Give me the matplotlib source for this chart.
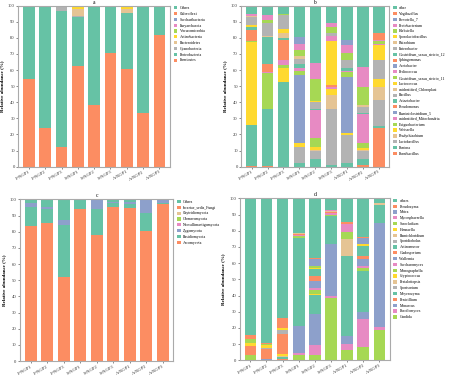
import numpy as np
import matplotlib
matplotlib.use("Agg")
import matplotlib.pyplot as plt
from matplotlib.patches import Patch

plt.rcParams['font.family'] = ['Liberation Serif', 'DejaVu Serif']

# === DATA ===
samples = ['F-NGP1', 'F-NGP2', 'F-NGP3', 'S-NGP1', 'S-NGP2', 'S-NGP3',
           'A-NGP1', 'A-NGP2', 'A-NGP3']

# panel a, bottom-up
a_taxa = ['Firmicutes', 'Proteobacteria', 'Cyanobacteria', 'Bacteroidetes',
          'Actinobacteria', 'Verrucomicrobia', 'Euryarchaeota',
          'Saccharibacteria', 'Chloroflexi', 'Others']
a_values = [
    [54.5, 24.0, 12.0, 62.5, 38.0, 70.5, 60.5, 33.5, 81.5],
    [44.5, 75.0, 84.5, 30.5, 61.7, 28.5, 35.0, 66.2, 17.5],
    [0, 0, 2.5, 0.5, 0, 0, 0, 0, 0],
    [0.3, 0.3, 0.5, 4.5, 0, 0.7, 2.5, 0, 0.7],
    [0.7, 0.7, 0.3, 2.0, 0.2, 0.2, 2.0, 0.2, 0.2],
    [0, 0, 0, 0, 0, 0, 0, 0, 0],
    [0, 0, 0, 0, 0, 0, 0, 0, 0],
    [0, 0, 0, 0, 0, 0, 0, 0, 0],
    [0, 0, 0, 0, 0, 0, 0, 0, 0],
    [0, 0, 0.2, 0, 0.1, 0.1, 0, 0.1, 0.1],
]

# panel b, bottom-up
b_taxa = ['Paenibacillus', 'Pantoea', 'Lactobacillus', 'Bradyrhizobium',
          'Weissella', 'Exiguobacterium', 'unidentified_Mitochondria',
          'Ruminiclostridium_5', 'Pseudomonas', 'Acinetobacter', 'Bacillus',
          'unidentified_Chloroplast', 'Lactococcus',
          'Clostridium_sensu_stricto_11', 'Pediococcus', 'Acetobacter',
          'Sphingomonas', 'Clostridium_sensu_stricto_12', 'Enterobacter',
          'Rhizobium', 'Sporolactobacillus', 'Klebsiella', 'Pectobacterium',
          'Prevotella_7', 'Virgibacillus', 'other']
b_values = [
    [0.5, 0.3, 0, 0, 0, 0, 0, 1, 24],
    [25.5, 35.2, 52.5, 2, 5, 1, 2, 4, 1],
    [0, 0, 0, 10.5, 4.5, 34.5, 17.5, 4.5, 16.5],
    [0, 0, 0, 0, 1, 9, 0, 1, 8],
    [51.5, 0, 8.5, 2, 2, 4, 1.5, 1, 5],
    [0.5, 22.5, 2.3, 0, 5, 0, 0, 3, 0],
    [0, 1, 2.7, 0, 17.5, 1, 0, 18, 0],
    [0, 0, 0, 42.5, 0, 0, 34.6, 0, 0],
    [7, 4.5, 12.5, 0, 0, 1, 0, 0, 0],
    [2, 17, 1.5, 0, 0.7, 0, 0, 1, 0],
    [0, 0, 0, 0, 4.3, 0, 0, 3.8, 11.5],
    [0, 0.5, 3, 0, 0, 0, 0, 0.7, 0],
    [1, 0, 2.5, 0, 1, 27.5, 0, 0, 9.5],
    [0, 0, 0, 2.5, 13.5, 0, 2.9, 11.5, 0],
    [0, 0, 0, 2, 10, 3, 1.2, 12.5, 0.5],
    [0, 0, 0, 0, 0, 0, 0, 0, 0],
    [0, 0, 0, 0, 0, 0, 0, 0, 0],
    [0, 0, 0, 2, 0, 0, 1.3, 0, 0],
    [5, 8.5, 8.5, 3.5, 0, 2, 5, 0, 0],
    [0.3, 0, 0, 1.5, 0, 0, 0.5, 0, 0],
    [0.5, 0, 0.5, 0, 0, 0, 0, 0, 0],
    [0, 1.5, 0.5, 4, 0, 4, 4, 0, 1.8],
    [1, 3, 0, 3.5, 0, 2, 5.2, 0, 1],
    [0, 0, 0, 4.5, 0, 0, 2.7, 0, 0],
    [0, 0, 0, 0, 0, 0, 0, 0, 4.2],
    [5.2, 6, 5, 19.5, 35.5, 11, 21.6, 38, 17],
]

# panel c, bottom-up
c_taxa = ['Ascomycota', 'Basidiomycota', 'Zygomycota', 'Neocallimastigomycota',
          'Glomeromycota', 'Chytridiomycota', 'Incertae_sedis_Fungi', 'Others']
c_values = [
    [83.5, 85.6, 52.0, 94.0, 78.0, 95.5, 94.5, 80.5, 97.0],
    [12.0, 8.6, 32.0, 5.5, 16.0, 2.5, 2.5, 11.0, 1.0],
    [2.5, 1.0, 3.0, 0, 5.5, 0.5, 1.5, 8.0, 1.5],
    [0, 0, 0, 0, 0, 0, 0, 0, 0],
    [0, 0, 0, 0, 0, 0, 0, 0, 0],
    [0, 0, 0, 0, 0, 0, 0, 0, 0],
    [0, 0, 0, 0, 0, 0, 0, 0, 0],
    [2.0, 4.8, 13.0, 0.5, 0.5, 1.5, 1.5, 0.5, 0.5],
]
c_colors = ['#fc8d62', '#66c2a5', '#8da0cb', '#e78ac3', '#a6d854',
            '#e5c494', '#fc8d62', '#66c2a5']

# panel d, bottom-up
d_taxa = ['Candida', 'Paecilomyces', 'Monascus', 'Penicillium', 'Meyerozyma',
          'Sporisorium', 'Pestalotiopsis', 'Cryptococcus', 'Monographella',
          'Saccharomyces', 'Wallemia', 'Cladosporium', 'Actinomucor',
          'Sporidiobolus', 'Ramichloridium', 'Hannaella', 'Sarocladium',
          'Mycosphaerella', 'Moira', 'Pseudozyma', 'others']
d_values = [
    [3.3, 0, 0, 3.5, 3.5, 38.8, 6.2, 8, 18.5],
    [0, 0, 0, 1, 5.8, 1, 4, 17.7, 2],
    [0, 0.8, 0, 17, 19.1, 31.8, 4.7, 4.2, 64.4],
    [5.5, 6.2, 1, 0, 0.5, 0, 0, 0, 0],
    [0, 0, 1, 54, 11.6, 17.4, 49.8, 25.5, 11],
    [0, 0.8, 0, 0, 0, 0, 0, 0, 0],
    [0, 0, 0.5, 0, 0, 0, 0, 0, 0],
    [2, 2, 1.5, 0, 0.5, 0, 0, 0, 0],
    [2.7, 0.5, 0, 1.5, 2.3, 1, 0, 1.4, 0],
    [0, 0, 0, 0.6, 1.1, 0.7, 0, 1.3, 0],
    [0, 0, 0, 0, 4.8, 0, 0, 4.6, 0],
    [2, 0.7, 12, 0.6, 3, 0.8, 0, 1.6, 0],
    [0, 0, 0, 0, 4.2, 0, 0, 6, 0],
    [0, 0, 3, 0, 0, 0, 0, 0, 0],
    [0, 0, 0, 0.6, 0, 0.7, 10.4, 0, 1],
    [0, 0, 1, 0, 0.8, 0, 0, 1.3, 0],
    [0, 0, 0, 0, 0.8, 0, 4.2, 0, 0],
    [0, 0, 0, 0, 0, 0.3, 5.1, 0, 0],
    [0, 0, 0, 0, 4.6, 0, 0, 4.1, 0],
    [0, 0, 6, 0, 0.5, 0, 1.1, 0.4, 0],
    [84.5, 89, 74, 21.2, 36.9, 7.5, 14.5, 23.9, 3.1],
]

SET2 = ['#66c2a5', '#fc8d62', '#8da0cb', '#e78ac3',
        '#a6d854', '#ffd92f', '#e5c494', '#b3b3b3']


def set2_colors(n):
    # legend (top-down) follows Set2 cycling; stack goes bottom-up
    top_down = [SET2[i % 8] for i in range(n)]
    return top_down[::-1]


def stacked(ax, taxa, values, colors, title):
    x = np.arange(len(samples))
    bottom = np.zeros(len(samples))
    for name, vals, col in zip(taxa, values, colors):
        vals = np.array(vals, dtype=float)
        ax.bar(x, vals, width=0.72, bottom=bottom, color=col, linewidth=0)
        bottom += vals
    ax.set_xlim(-0.65, 8.65)
    ax.set_ylim(0, 100)
    ax.set_yticks(np.arange(0, 101, 10))
    ax.set_xticks(x)
    ax.set_xticklabels(samples, rotation=30, ha='right', fontsize=3.3,
                       rotation_mode='anchor')
    ax.tick_params(axis='y', labelsize=3.3, length=1.5, width=0.4,
                   pad=1, colors='#333333')
    ax.tick_params(axis='x', length=1.2, width=0.4, pad=1, colors='#333333')
    for s in ax.spines.values():
        s.set_color('#aaaaaa')
        s.set_linewidth(0.8)
    ax.set_ylabel('Relative abundance (%)', fontsize=3.6,
                  fontweight='bold', labelpad=3)
    ax.set_title(title, fontsize=4, pad=1.5)
    handles = [Patch(facecolor=c, edgecolor='none')
               for c in colors[::-1]]
    ax.legend(handles, taxa[::-1], loc='upper left',
              bbox_to_anchor=(1.02, 1.0), borderaxespad=0, frameon=False,
              fontsize=2.8, labelspacing=0.47, handlelength=1.0,
              handleheight=0.9, handletextpad=0.6, borderpad=0.1)


fig = plt.figure(figsize=(4.56, 3.77), dpi=100)
ax_a = fig.add_axes([0.040, 0.558, 0.333, 0.427])
ax_b = fig.add_axes([0.529, 0.558, 0.325, 0.427])
ax_c = fig.add_axes([0.044, 0.042, 0.336, 0.429])
ax_d = fig.add_axes([0.526, 0.044, 0.329, 0.430])

stacked(ax_a, a_taxa, a_values, set2_colors(len(a_taxa)), 'a')
stacked(ax_b, b_taxa, b_values, set2_colors(len(b_taxa)), 'b')
stacked(ax_c, c_taxa, c_values, c_colors, 'c')
stacked(ax_d, d_taxa, d_values, set2_colors(len(d_taxa)), 'd')

fig.savefig('out.png', dpi=100)
